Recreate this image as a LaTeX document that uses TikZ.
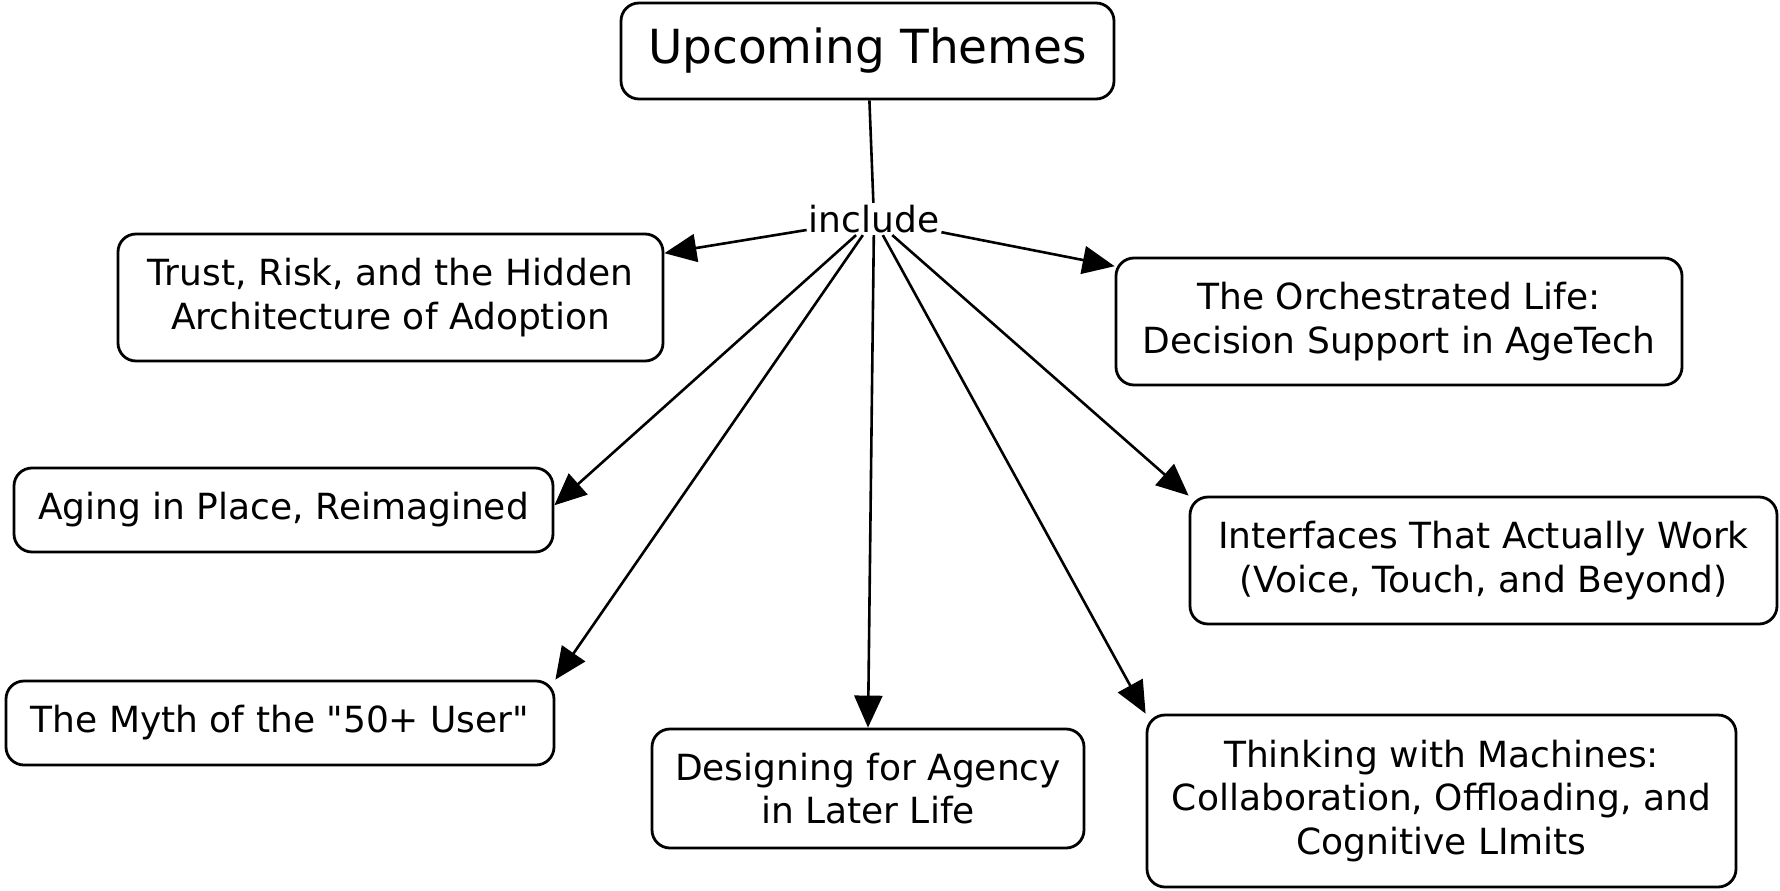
\documentclass[tikz,border=0pt]{standalone}
\usepackage{fontspec}
\setmainfont{DejaVu Sans}[Ligatures=TeXOff]
\usetikzlibrary{arrows.meta}
\tikzset{
  box/.style={draw=black, line width=2.8pt, rounded corners=18pt, fill=white, align=center,
    font=\fontsize{36}{43.5}\selectfont, inner sep=0pt},
  titlebox/.style={box, font=\fontsize{47}{56}\selectfont},
  linklabel/.style={font=\fontsize{36}{43}\selectfont, inner sep=2pt},
  conn/.style={draw=black, line width=2.6pt},
  arr/.style={conn, -{Triangle[length=32pt, width=28pt]}}
}
\begin{document}
\begin{tikzpicture}[x=1pt, y=-1pt]
\useasboundingbox (0,0) rectangle (1780,891);
\node[titlebox, minimum width=493pt, minimum height=96pt] (top) at (867.5,51) {Upcoming Themes};
\node[linklabel] (inc) at (874,219) {include};
\node[box, minimum width=545pt, minimum height=127pt] (trust) at (390.5,297.5) {Trust, Risk, and the Hidden\\Architecture of Adoption};
\node[box, minimum width=566pt, minimum height=127pt] (orch) at (1399,321.5) {The Orchestrated Life:\\Decision Support in AgeTech};
\node[box, minimum width=539pt, minimum height=84pt] (aging) at (283.5,510) {Aging in Place, Reimagined};
\node[box, minimum width=587pt, minimum height=127pt] (interf) at (1483.5,560.5) {Interfaces That Actually Work\\(Voice, Touch, and Beyond)};
\node[box, minimum width=548pt, minimum height=84pt] (myth) at (280,723) {The Myth of the "50+ User"};
\node[box, minimum width=432pt, minimum height=119pt] (design) at (868,788.5) {Designing for Agency\\in Later Life};
\node[box, minimum width=589pt, minimum height=172pt] (think) at (1441.5,801) {Thinking with Machines:\\Collaboration, Offloading, and\\Cognitive LImits};
\draw[conn] (top) -- (inc);
\draw[arr] (inc) -- (trust);
\draw[arr] (inc) -- (orch.169.7);
\draw[arr] (inc) -- (aging.1.5);
\draw[arr] (inc) -- (myth.north east);
\draw[arr] (inc) -- (design.north);
\draw[arr] (inc) -- (think.north west);
\draw[arr] (inc) -- (interf.north west);
\end{tikzpicture}
\end{document}
